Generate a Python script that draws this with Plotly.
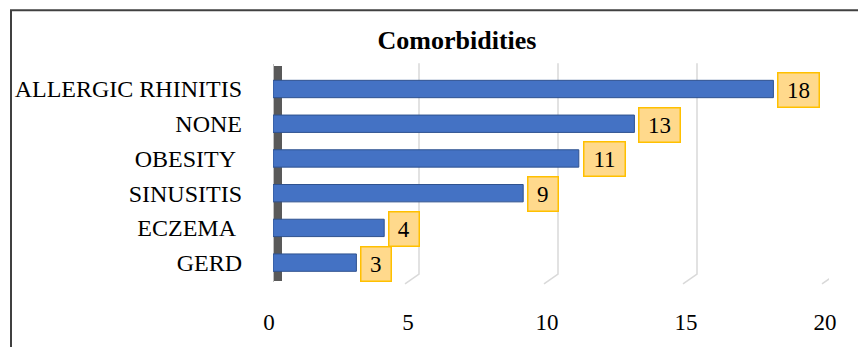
import plotly.graph_objects as go

# Comorbidity counts (top to bottom as listed)
categories = ["ALLERGIC RHINITIS", "NONE", "OBESITY\u00a0", "SINUSITIS", "ECZEMA\u00a0", "GERD"]
counts = [18, 13, 11, 9, 4, 3]
x_ticks = [0, 5, 10, 15, 20]

W, H = 858, 347
ML, MR, MT, MB = 273, 29, 70, 63
plot_w = W - ML - MR
plot_h = H - MT - MB


def px_x(p):
    return (p - ML) / plot_w


def px_y(p):
    return (H - MB - p) / plot_h


FONT = "Liberation Serif, Times New Roman, serif"

fig = go.Figure()
fig.add_trace(go.Bar(
    x=counts,
    y=categories,
    orientation="h",
    marker=dict(color="#4472C4", line=dict(color="#2F528F", width=1)),
    hoverinfo="skip",
))

shapes = []
# Back-wall gridlines with the 3D floor diagonal at their base
for t in x_ticks[1:]:
    shapes.append(dict(type="path", xref="x", yref="paper", xsizemode="pixel",
                       xanchor=t, ysizemode="scaled", layer="below",
                       path=f"M7,{px_y(63)} L7,{px_y(278)} L-7,{px_y(288)}",
                       line=dict(color="#D9D9D9", width=1.5)))
# Side wall of the 3D chart
shapes.append(dict(type="rect", xref="x", yref="paper", xsizemode="pixel", xanchor=0,
                   x0=-1, x1=1, y0=px_y(286), y1=px_y(64), layer="below",
                   fillcolor="#BFBFBF", line=dict(width=0)))
shapes.append(dict(type="rect", xref="x", yref="paper", xsizemode="pixel", xanchor=0,
                   x0=1, x1=9, y0=px_y(285), y1=px_y(66), layer="below",
                   fillcolor="#595959", line=dict(width=0)))
# Chart border (left and top edges)
shapes.append(dict(type="line", xref="paper", yref="paper",
                   x0=px_x(11), x1=px_x(11), y0=px_y(9), y1=px_y(360),
                   line=dict(color="#404040", width=2)))
shapes.append(dict(type="line", xref="paper", yref="paper",
                   x0=px_x(10), x1=px_x(870), y0=px_y(9), y1=px_y(9),
                   line=dict(color="#404040", width=2)))

annotations = []
for c, v in zip(categories, counts):
    label = str(v)
    annotations.append(dict(
        x=v, y=c, xref="x", yref="y", text=label, showarrow=False,
        xanchor="left", yanchor="middle", xshift=4, yshift=-1,
        font=dict(family=FONT, size=23, color="#000000"),
        bgcolor="#FFD98C", bordercolor="#FFC000", borderwidth=1.5,
        borderpad=3, width=11.5 * len(label) + 11, height=27,
    ))

fig.update_layout(
    width=W, height=H,
    margin=dict(l=ML, r=MR, t=MT, b=MB),
    paper_bgcolor="white", plot_bgcolor="white",
    showlegend=False,
    bargap=0.5,
    title=dict(text="<b>Comorbidities</b>", x=457 / W, xanchor="center",
               y=1 - 40 / H, yanchor="middle",
               font=dict(family=FONT, size=26, color="#000000")),
    xaxis=dict(range=[0, 20], tickvals=x_ticks, showgrid=False, zeroline=False,
               showline=False, ticks="", ticklabelshift=-4, ticklabelstandoff=26,
               tickfont=dict(family=FONT, size=23, color="#000000"), fixedrange=True),
    yaxis=dict(autorange="reversed", showgrid=False, zeroline=False, showline=False,
               ticks="", ticklabelstandoff=30,
               tickfont=dict(family=FONT, size=24, color="#000000"), fixedrange=True),
    shapes=shapes,
    annotations=annotations,
)

fig.write_html("out.html")
